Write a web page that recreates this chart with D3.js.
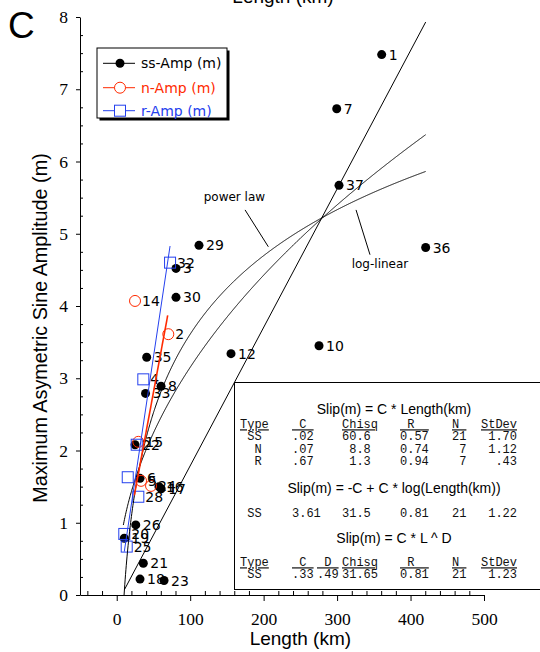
<!DOCTYPE html>
<html><head><meta charset="utf-8">
<script src="https://cdn.jsdelivr.net/npm/d3@7"></script>
<style>
html,body{margin:0;padding:0;background:#fff;}
svg{display:block;}
text{white-space:pre;}
</style></head>
<body>
<svg id="chart" width="540" height="652"></svg>
<script>
// Fault observations: [length (km), max asymmetric sine amplitude (m), fault id]
const ssAmp = [
  [360.7, 7.48, "1"], [299.5, 6.73, "7"], [302.6, 5.67, "37"], [420.6, 4.81, "36"],
  [275.4, 3.45, "10"], [155.6, 3.34, "12"], [112.0, 4.84, "29"], [80.7, 4.52, "3"],
  [80.7, 4.12, "30"], [40.8, 3.29, "35"], [60.3, 2.89, "8"], [39.2, 2.79, "33"],
  [24.9, 2.08, "22"], [31.7, 1.615, "6"], [57.5, 1.50, "16"], [60.5, 1.47, "17"],
  [25.9, 0.97, "26"], [10.3, 0.785, "19"], [36.2, 0.44, "21"], [31.7, 0.22, "18"],
  [64.4, 0.20, "23"]
];
const nAmp = [
  [24.9, 4.07, "14"], [70.2, 3.61, "2"], [29.4, 2.12, "15"], [33.1, 1.58, "5"], [46.7, 1.51, "24"]
];
const rAmp = [
  [72.6, 4.60, "32"], [36.2, 2.985, "4"], [27.2, 2.08, ""], [15.0, 1.63, ""],
  [29.4, 1.36, "28"], [10.3, 0.845, "20"], [13.6, 0.67, "25"]
];

// Straight-line fits, as end points [length, amplitude]
const ssLinearFit = [[10.3, 0.07], [420.6, 7.93]];
const nLinearFit = [[24.0, 1.38], [69.4, 3.87]];
const rLinearFit = [[10.3, 0.60], [72.6, 4.83]];

// Curved fits to the strike-slip set
const logLinearFit = {C: 3.61, from: 10, to: 420.6};
const powerLawFit = {C: 0.33, D: 0.49, from: 9, to: 420.6};

// Axis ticks
const xTicks = [0, 100, 200, 300, 400, 500];
const xMinorTicks = d3.range(-40, 501, 20).filter(v => v % 100 !== 0);
const yTicks = [0, 1, 2, 3, 4, 5, 6, 7, 8];
const yMinorTicks = d3.range(0.25, 8, 0.25).filter(v => v % 1 !== 0);

// Legend entries
const legendItems = ["ss-Amp (m)", "n-Amp (m)", "r-Amp (m)"];

// Fit-statistics table
const tableTitles = ["Slip(m) = C * Length(km)", "Slip(m) = -C + C * log(Length(km))", "Slip(m) = C * L ^ D"];
const linHeader = ["Type", " C ", "Chisq", " R  ", "N ", "StDev"];
const linRows = [
  [" SS", ".02", "60.6", "0.57", "21", " 1.70"],
  ["  N", ".07", " 8.8", "0.74", " 7", " 1.12"],
  ["  R", ".67", " 1.3", "0.94", " 7", "  .43"]
];
const logRow = [" SS", "3.61", "31.5", "0.81", "21", " 1.22"];
const powHeader = ["Type", " C ", " D ", "Chisq", " R  ", "N ", "StDev"];
const powRow = [" SS", ".33", ".49", "31.65", "0.81", "21", " 1.23"];

const BLACK = "#000", RED = "#ff2a00", BLUE = "#2440ee";
const SANS = "'Liberation Sans', Arial, sans-serif";
const GENEVA = "'DejaVu Sans', sans-serif";
const SERIF = "'Liberation Serif', 'Times New Roman', serif";
const MONO = "'Liberation Mono', 'Courier New', monospace";

const svg = d3.select("#chart");
const x = d3.scaleLinear().domain([-50, 500]).range([80, 484]);
const y = d3.scaleLinear().domain([0, 8]).range([595, 17]);

// Panel letter and the cut-off title of the panel above
svg.append("text").attr("x", 8).attr("y", 38).attr("font-family", SANS)
  .attr("font-size", 37).text("C");
svg.append("text").attr("x", 283).attr("y", 3).attr("text-anchor", "middle")
  .attr("font-family", SANS).attr("font-size", 19).text("Length (km)");

// Axes
const gx = svg.append("g").attr("transform", `translate(0,${y(0)})`);
gx.call(d3.axisBottom(x).tickValues(xTicks).tickSize(6).tickSizeOuter(0).tickPadding(11.5)
  .tickFormat(d3.format("d")));
gx.append("g").call(d3.axisBottom(x).tickValues(xMinorTicks).tickSize(-4).tickFormat(""))
  .select(".domain").remove();
gx.selectAll("text").attr("font-family", SERIF).attr("font-size", 17.5).attr("fill", BLACK);

const gy = svg.append("g").attr("transform", `translate(${x(-50)},0)`);
gy.call(d3.axisLeft(y).tickValues(yTicks).tickSize(4).tickSizeOuter(0).tickPadding(8)
  .tickFormat(d3.format("d")));
gy.append("g").call(d3.axisLeft(y).tickValues(yMinorTicks).tickSize(-3).tickFormat(""))
  .select(".domain").remove();
gy.selectAll("text").attr("font-family", SERIF).attr("font-size", 17.5).attr("fill", BLACK);
svg.selectAll(".domain, .tick line").attr("stroke", BLACK).attr("stroke-width", 1);

svg.append("text").attr("x", x(250)).attr("y", 645).attr("text-anchor", "middle")
  .attr("font-family", SANS).attr("font-size", 19).text("Length (km)");
svg.append("text").attr("transform", "translate(47,328) rotate(-90)").attr("text-anchor", "middle")
  .attr("font-family", SANS).attr("font-size", 19.8).text("Maximum Asymetric Sine Amplitude (m)");

// Markers
const gm = svg.append("g");
gm.selectAll("circle.ss").data(ssAmp).join("circle").attr("class", "ss")
  .attr("cx", d => x(d[0])).attr("cy", d => y(d[1])).attr("r", 4.5).attr("fill", BLACK);
gm.selectAll("circle.n").data(nAmp).join("circle").attr("class", "n")
  .attr("cx", d => x(d[0])).attr("cy", d => y(d[1])).attr("r", 5.5)
  .attr("fill", "none").attr("stroke", RED).attr("stroke-width", 1);
gm.selectAll("rect.r").data(rAmp).join("rect").attr("class", "r")
  .attr("x", d => x(d[0]) - 5.5).attr("y", d => y(d[1]) - 5.5).attr("width", 11).attr("height", 11)
  .attr("fill", "none").attr("stroke", BLUE).attr("stroke-width", 1);

// Point ids
const allPts = ssAmp.concat(nAmp, rAmp).filter(d => d[2] !== "");
svg.append("g").selectAll("text").data(allPts).join("text")
  .attr("x", d => x(d[0]) + 7).attr("y", d => y(d[1])).attr("dy", "0.36em")
  .attr("font-family", GENEVA).attr("font-size", 14).attr("fill", BLACK).text(d => d[2]);

// Fit lines
const line = d3.line().x(d => x(d[0])).y(d => y(d[1]));
const curve = (f, step) => d3.range(f.from, f.to, step).concat([f.to]);
svg.append("path").attr("d", line(ssLinearFit)).attr("fill", "none").attr("stroke", BLACK).attr("stroke-width", 1);
svg.append("path").attr("d", line(curve(logLinearFit, 0.5).map(L => [L, -logLinearFit.C + logLinearFit.C * Math.log10(L)])))
  .attr("fill", "none").attr("stroke", BLACK).attr("stroke-width", 1);
svg.append("path").attr("d", line(curve(powerLawFit, 0.5).map(L => [L, powerLawFit.C * Math.pow(L, powerLawFit.D)])))
  .attr("fill", "none").attr("stroke", BLACK).attr("stroke-width", 1);
svg.append("path").attr("d", line(nLinearFit)).attr("fill", "none").attr("stroke", RED).attr("stroke-width", 1.6);
svg.append("path").attr("d", line(rLinearFit)).attr("fill", "none").attr("stroke", BLUE).attr("stroke-width", 1);

// Curve annotations
const annotations = [
  {text: "power law", at: [202, 5.52], anchor: "end", leader: [[174.7, 5.33], [206.4, 4.82]]},
  {text: "log-linear", at: [358.4, 4.59], anchor: "middle", leader: [[325.8, 5.33], [344.8, 4.71]]}
];
annotations.forEach(a => {
  svg.append("text").attr("x", x(a.at[0])).attr("y", y(a.at[1])).attr("dy", "0.36em")
    .attr("text-anchor", a.anchor).attr("font-family", GENEVA).attr("font-size", 12).text(a.text);
  svg.append("path").attr("d", line(a.leader)).attr("stroke", BLACK).attr("stroke-width", 1);
});

// Legend
const lg = svg.append("g");
lg.append("rect").attr("x", 99.5).attr("y", 50.5).attr("width", 130).attr("height", 70).attr("fill", BLACK);
lg.append("rect").attr("x", 97).attr("y", 48).attr("width", 130).attr("height", 70)
  .attr("fill", "#fff").attr("stroke", BLACK).attr("stroke-width", 1);
const legendRowY = [63.3, 87.7, 110.7];
const legendColors = [BLACK, RED, BLUE];
legendItems.forEach((t, i) => {
  const yy = legendRowY[i], c = legendColors[i];
  lg.append("line").attr("x1", 103).attr("x2", 135).attr("y1", yy).attr("y2", yy).attr("stroke", c);
  if (i === 0) lg.append("circle").attr("cx", 120).attr("cy", yy).attr("r", 4.5).attr("fill", c);
  if (i === 1) lg.append("circle").attr("cx", 120).attr("cy", yy).attr("r", 5.5).attr("fill", "#fff").attr("stroke", c);
  if (i === 2) lg.append("rect").attr("x", 114.5).attr("y", yy - 5.5).attr("width", 11).attr("height", 11)
    .attr("fill", "#fff").attr("stroke", c);
  lg.append("text").attr("x", 141).attr("y", yy).attr("dy", "0.36em").attr("font-family", GENEVA)
    .attr("font-size", 14).attr("fill", c).text(t);
});

// Fit statistics table
const tg = svg.append("g");
tg.append("rect").attr("x", 234.5).attr("y", 382.5).attr("width", 320).attr("height", 207)
  .attr("fill", "#fff").attr("stroke", BLACK).attr("stroke-width", 1);
const titleX = 394;
const titleY = [409, 488, 538];
tableTitles.forEach((t, i) => {
  tg.append("text").attr("x", titleX).attr("y", titleY[i]).attr("dy", "0.36em").attr("text-anchor", "middle")
    .attr("font-family", SANS).attr("font-size", 14).text(t);
});
const linCols = [240, 292, 342, 400, 452, 481];
const powCols = [240, 292, 317, 342, 400, 452, 481];
const cell = (cols, cells, yy, underline) => cells.forEach((t, i) => {
  tg.append("text").attr("x", cols[i]).attr("y", yy).attr("dy", "0.36em")
    .attr("font-family", MONO).attr("font-size", 12).attr("fill", "#111")
    .attr("text-decoration", underline ? "underline" : null).text(t);
});
cell(linCols, linHeader, 424, true);
linRows.forEach((r, i) => cell(linCols, r, 436 + i * 12.2, false));
cell(linCols, logRow, 513, false);
cell(powCols, powHeader, 562, true);
cell(powCols, powRow, 574, false);
</script>
</body></html>
